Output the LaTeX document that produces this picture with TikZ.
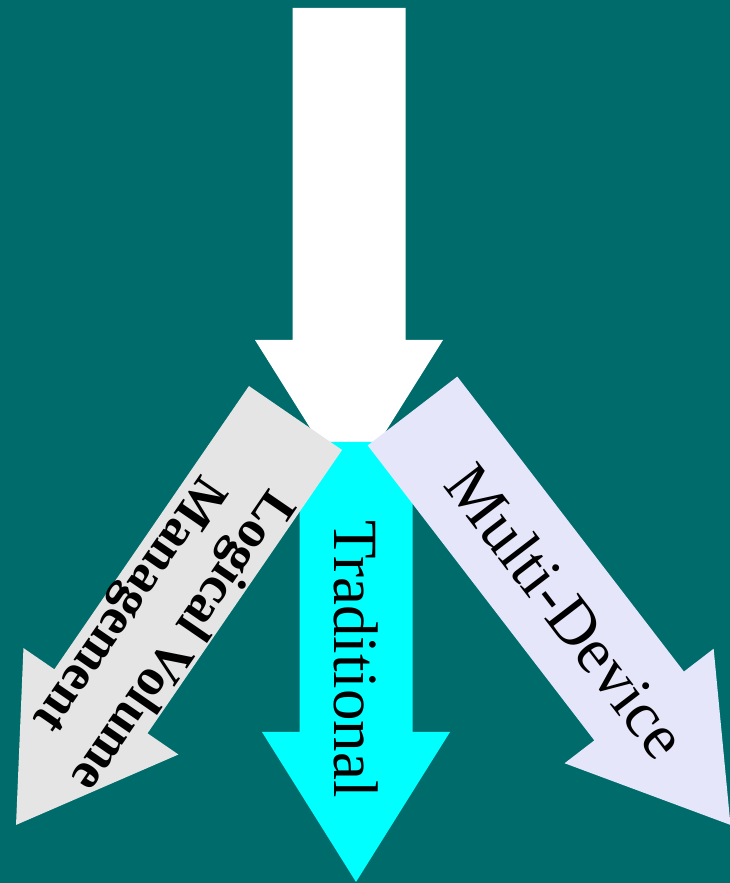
\documentclass[tikz,border=0pt]{standalone}
\usepackage{fontspec}
\setmainfont{Liberation Serif}
\definecolor{tealbg}{RGB}{0,107,107}
\definecolor{lvmgray}{RGB}{229,229,229}
\definecolor{mdlav}{RGB}{230,230,250}
\definecolor{tradcyan}{RGB}{0,255,255}
% block arrow: fill style, start of the shaft, direction angle, total length
\newcommand\blockarrow[4]{%
  \fill[#1,shift={#2},rotate=#3]
    (0,-56.5) -- (#4-150,-56.5) -- (#4-150,-94) -- (#4,0)
    -- (#4-150,94) -- (#4-150,56.5) -- (0,56.5) -- cycle;}
\tikzset{
  arrowlabel/.style={text=black, inner sep=0pt, font=\fontsize{63}{75}\selectfont},
  lvmlabel/.style={text=black, inner sep=0pt, align=center,
    font=\fontsize{53}{64}\selectfont\bfseries}
}
\begin{document}
\begin{tikzpicture}[x=1pt,y=1pt]
  \fill[tealbg] (0,0) rectangle (730,883);
  \clip (0,0) rectangle (730,883);
  % incoming arrow from the top
  \blockarrow{white}{(349,875)}{-90}{482}
  % the three branches
  \blockarrow{tradcyan}{(356,441)}{-90}{440}
  \blockarrow{lvmgray}{(295.5,465)}{235.52}{493.7}
  \blockarrow{mdlav}{(412.5,472)}{-52.47}{522}
  % branch labels
  \node[arrowlabel, rotate=-90] (trad) at (356.5,224) {Traditional};
  \node[arrowlabel, font=\fontsize{65}{78}\selectfont, rotate=-52.5] (md) at (567,272) {Multi-Device};
  \node[lvmlabel, rotate=235.5] (lvm) at (153.9,261.4) {Logical Volume\\Management};
\end{tikzpicture}
\end{document}
